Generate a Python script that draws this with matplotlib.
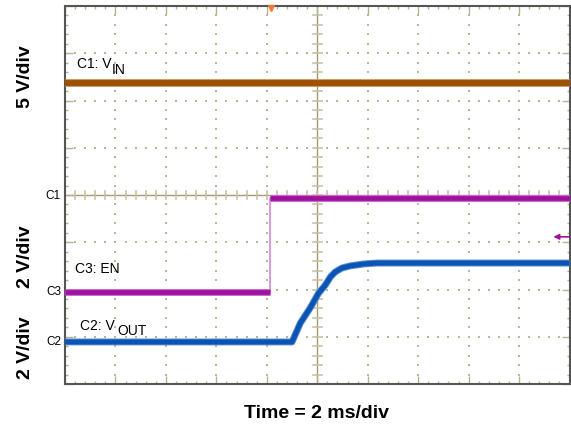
import numpy as np
import matplotlib.pyplot as plt
import matplotlib.transforms as mtransforms

plt.rcParams['font.family'] = ['Liberation Sans', 'DejaVu Sans']

# Ajustes del osciloscopio
t_div = 2.0          # ms/div
n_xdiv, n_ydiv = 10, 8
ch_scale = {'C1': 5.0, 'C2': 2.0, 'C3': 2.0}      # V/div
ch_offset = {'C1': 3.98, 'C2': 0.89, 'C3': 1.95}  # posicion de tierra (div)

# Datos (tiempo en ms, 0 = centro de pantalla)
vin_t = [-10.0, 10.0]
vin_v = [12.0, 12.0]

en_t = [-10.0, -1.87, -1.87, 10.0]
en_v = [0.0, 0.0, 3.98, 3.98]

vout_t = [-10.0, -1.00, -0.67, -0.28, 0.05, 0.32, 0.52, 0.71, 0.98, 1.31, 1.83, 2.37, 10.0]
vout_v = [0.0, 0.0, 0.80, 1.44, 2.06, 2.41, 2.75, 2.96, 3.13, 3.22, 3.30, 3.34, 3.34]

trig_t = -1.83   # marca de disparo (ms)
trig_lvl = 2.33  # nivel de disparo en C3 (V)

c_vin = '#9c5000'
c_en = '#a0109f'
c_vout = '#0a55b4'
c_grid = '#bdb597'
c_axis = '#a39a72'


def to_x(t):
    return np.asarray(t) / t_div + n_xdiv / 2


def to_y(v, ch):
    return ch_offset[ch] + np.asarray(v) / ch_scale[ch]


fig = plt.figure(figsize=(5.71, 4.29), dpi=100)
ax = fig.add_axes([65 / 571, 45 / 429, 504.5 / 571, 378 / 429])
ax.set_xlim(0, n_xdiv)
ax.set_ylim(0, n_ydiv)

# reticula punteada
minor = np.arange(0, 5 * n_xdiv + 1) / 5
minor_y = np.arange(0, 5 * n_ydiv + 1) / 5
for i in range(1, n_xdiv):
    if i == n_xdiv // 2:
        continue
    ax.scatter(np.full(len(minor_y), i), minor_y, s=1.6, marker='s', color=c_grid, lw=0, zorder=1)
for j in range(1, n_ydiv):
    if j == n_ydiv // 2:
        continue
    ax.scatter(minor, np.full(len(minor), j), s=1.6, marker='s', color=c_grid, lw=0, zorder=1)

# ejes centrales con marcas
ax.axvline(n_xdiv / 2, color=c_axis, lw=1.0, zorder=1)
ax.axhline(n_ydiv / 2, color=c_axis, lw=1.0, zorder=1)
for yy in minor_y:
    ax.plot([n_xdiv / 2 - 0.09, n_xdiv / 2 + 0.09], [yy, yy], color='#c9c2a4', lw=1.2, zorder=1)
for xx in minor:
    ax.plot([xx, xx], [n_ydiv / 2 - 0.08, n_ydiv / 2 + 0.08], color='#c9c2a4', lw=1.2, zorder=1)

# marcas del borde
ax.set_xticks(np.arange(0, n_xdiv + 1))
ax.set_xticks(minor, minor=True)
ax.set_yticks(np.arange(0, n_ydiv + 1))
ax.set_yticks(minor_y, minor=True)
ax.tick_params(which='both', direction='in', top=True, right=True,
               labelbottom=False, labelleft=False, color='#b8b08e', width=1.0)
ax.tick_params(which='major', length=5.5)
ax.tick_params(which='minor', length=2.2)
for sp in ax.spines.values():
    sp.set_color('#555555')
    sp.set_linewidth(1.5)

# trazas
ax.plot(to_x(vin_t), to_y(vin_v, 'C1'), color='#c9925a', lw=5.6, solid_capstyle='butt', zorder=3)
ax.plot(to_x(vin_t), to_y(vin_v, 'C1'), color=c_vin, lw=4.2, solid_capstyle='butt', zorder=3)

ax.plot(to_x(en_t), to_y(en_v, 'C3'), color='#d37bd2', lw=1.1, zorder=3)
for k in (0, 2):
    ax.plot(to_x(en_t[k:k + 2]), to_y(en_v[k:k + 2], 'C3'), color='#cc66cc', lw=5.0,
            solid_capstyle='butt', zorder=3)
    ax.plot(to_x(en_t[k:k + 2]), to_y(en_v[k:k + 2], 'C3'), color=c_en, lw=3.4,
            solid_capstyle='butt', zorder=3)

ax.plot(to_x(vout_t), to_y(vout_v, 'C2'), color='#5b8fd0', lw=5.0, solid_capstyle='butt', zorder=4)
ax.plot(to_x(vout_t), to_y(vout_v, 'C2'), color=c_vout, lw=3.6, solid_capstyle='butt', zorder=4)

# marcadores de disparo
ax.plot([to_x(trig_t)], [n_ydiv - 0.05], marker='v', ms=4, color='#f07a30', clip_on=False, zorder=5)
ax.annotate('', xy=(n_xdiv - 0.32, to_y(trig_lvl, 'C3')), xytext=(n_xdiv, to_y(trig_lvl, 'C3')),
            arrowprops=dict(arrowstyle='-|>', color=c_en, lw=1.2, mutation_scale=8,
                            shrinkA=0, shrinkB=0), zorder=5)

# etiquetas de canal a la izquierda
blend = mtransforms.blended_transform_factory(ax.transAxes, ax.transData)
for ch in ['C1', 'C3', 'C2']:
    ax.text(-0.008, ch_offset[ch], ch, transform=blend, ha='right', va='center', fontsize=8.5)

# nombres de las trazas
ax.text(0.24, 6.69, 'C1: V', fontsize=10, va='baseline')
ax.text(0.92, 6.56, 'IN', fontsize=10, va='baseline')
ax.text(0.20, 2.35, 'C3: EN', fontsize=10, va='baseline')
ax.text(0.30, 1.14, 'C2: V', fontsize=10, va='baseline')
ax.text(1.03, 1.03, 'OUT', fontsize=10, va='baseline')

# escalas verticales y horizontal
fig.text(25 / 571, 1 - 77 / 429, '5 V/div', rotation=90, ha='center', va='center',
         fontsize=14, fontweight='bold')
fig.text(25 / 571, 1 - 257 / 429, '2 V/div', rotation=90, ha='center', va='center',
         fontsize=14, fontweight='bold')
fig.text(25 / 571, 1 - 348 / 429, '2 V/div', rotation=90, ha='center', va='center',
         fontsize=14, fontweight='bold')
fig.text(317 / 571, 1 - 413 / 429, 'Time = 2 ms/div', ha='center', va='center',
         fontsize=14, fontweight='bold')

fig.savefig('out.png', dpi=100)
